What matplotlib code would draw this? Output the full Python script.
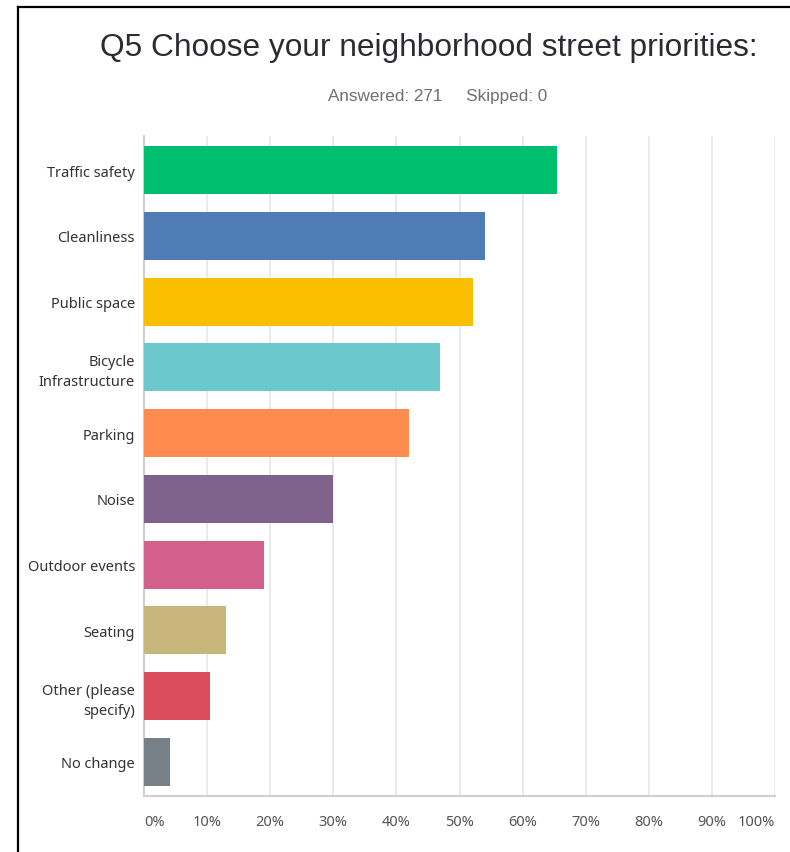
import numpy as np
import matplotlib.pyplot as plt
from matplotlib.lines import Line2D
from matplotlib.ticker import FuncFormatter

# 回答データ (割合 %)
categories = ['Traffic safety', 'Cleanliness', 'Public space', 'Bicycle\nInfrastructure',
              'Parking', 'Noise', 'Outdoor events', 'Seating', 'Other (please\nspecify)',
              'No change']
percents = [65.5, 54.0, 52.1, 46.9, 42.0, 30.0, 19.0, 13.0, 10.5, 4.1]
bar_colors = ['#00BF6F', '#507CB6', '#F9BE00', '#6BC8CD', '#FF8B4F',
              '#7F628B', '#D25F8C', '#C8B57A', '#DB4D5C', '#768086']
x_ticks = [0, 10, 20, 30, 40, 50, 60, 70, 80, 90, 100]

fig = plt.figure(figsize=(7.9, 8.53), dpi=100)
W, H = 790, 853

# プロット領域 (ピクセルから)
left, right, top, bottom = 144, 775, 137, 797
ax = fig.add_axes([left / W, 1 - bottom / H, (right - left) / W, (bottom - top) / H])

y = np.arange(len(categories))
ax.barh(y, percents, height=0.73, color=bar_colors, zorder=3)
ax.set_xlim(0, 100)
ax.set_ylim(len(categories) - 0.48, -0.52)

ax.set_yticks(y)
ax.set_yticklabels(categories, fontsize=10.5, color='#333333', family='Noto Sans',
                   linespacing=1.45)
ax.set_xticks(x_ticks)
ax.xaxis.set_major_formatter(FuncFormatter(lambda v, p: f'{v:.0f}%'))
xlabels = ax.get_xticklabels()
for lbl in xlabels:
    lbl.set_fontsize(10.5)
    lbl.set_color('#555555')
    lbl.set_family('Noto Sans')
# 端のラベルは枠の内側に寄せる
xlabels[0].set_ha('left')
xlabels[-1].set_ha('right')
ax.tick_params(axis='both', length=0)
ax.tick_params(axis='x', pad=13)
ax.tick_params(axis='y', pad=6.5)

ax.grid(axis='x', color='#e6e6e6', linewidth=1.2, zorder=0)
for s in ['top', 'right']:
    ax.spines[s].set_visible(False)
ax.spines['left'].set_color('#d0d0d0')
ax.spines['bottom'].set_color('#d0d0d0')
ax.spines['left'].set_linewidth(1.5)
ax.spines['bottom'].set_linewidth(1.5)

# タイトル
fig.text(428.5 / W, 1 - 48 / H, 'Q5 Choose your neighborhood street priorities:',
         ha='center', va='center', fontsize=22.8, color='#2b2b33', family='Liberation Sans')
fig.text(437.5 / W, 1 - 97 / H, 'Answered: 271     Skipped: 0',
         ha='center', va='center', fontsize=12.3, color='#6f6f6f', family='Liberation Sans')

# 枠線 (左と上)
fig.add_artist(Line2D([17.5 / W, 17.5 / W], [0, 1 - 7.5 / H], color='black', linewidth=1.6,
                      transform=fig.transFigure))
fig.add_artist(Line2D([17.5 / W, 1], [1 - 7.5 / H, 1 - 7.5 / H], color='black', linewidth=1.6,
                      transform=fig.transFigure))

fig.savefig('out.png', dpi=100)
